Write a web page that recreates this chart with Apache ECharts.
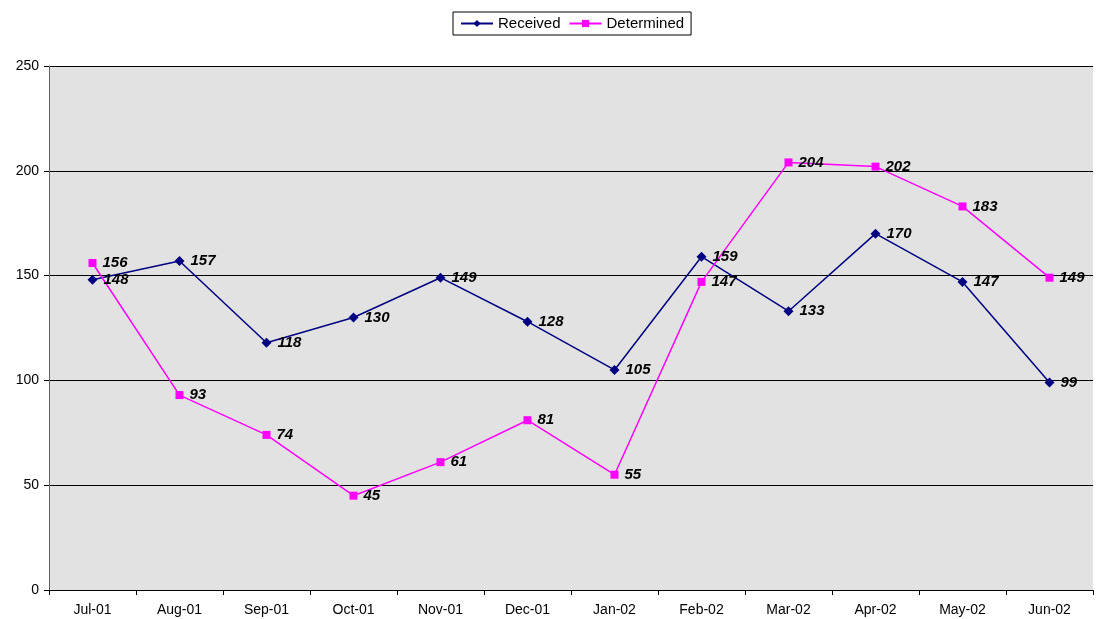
<!DOCTYPE html>
<html>
<head>
<meta charset="utf-8">
<script src="https://cdn.jsdelivr.net/npm/echarts@6/dist/echarts.min.js"></script>
<style>
  html, body { margin: 0; padding: 0; background: #fff; }
  #chart { width: 1100px; height: 619px; }
</style>
</head>
<body>
<div id="chart"></div>
<script>
// 月份
var months = ["Jul-01", "Aug-01", "Sep-01", "Oct-01", "Nov-01", "Dec-01",
              "Jan-02", "Feb-02", "Mar-02", "Apr-02", "May-02", "Jun-02"];
// 数据
var received = [148, 157, 118, 130, 149, 128, 105, 159, 133, 170, 147, 99];
var determined = [156, 93, 74, 45, 61, 81, 55, 147, 204, 202, 183, 149];

var chart = echarts.init(document.getElementById("chart"));
var labelStyle = {
  show: true,
  position: "right",
  distance: 6,
  color: "#000",
  fontFamily: "Liberation Sans, Arial, sans-serif",
  fontSize: 15,
  fontWeight: "bold",
  fontStyle: "italic"
};

var option = {
  animation: false,
  backgroundColor: "#fff",
  textStyle: { fontFamily: "Liberation Sans, Arial, sans-serif" },
  legend: {
    top: 12,
    left: 453,
    itemGap: 8,
    itemWidth: 32,
    itemHeight: 9,
    padding: [4, 7],
    borderColor: "#000",
    borderWidth: 1,
    textStyle: { fontSize: 15, color: "#000" },
    data: ["Received", "Determined"]
  },
  grid: {
    left: 49,
    right: 7,
    top: 66,
    bottom: 29,
    show: true,
    backgroundColor: "#e2e2e2",
    borderWidth: 0
  },
  xAxis: {
    type: "category",
    data: months,
    boundaryGap: true,
    axisLine: { lineStyle: { color: "#000", width: 1 } },
    axisTick: { show: true, length: 5, lineStyle: { color: "#000" } },
    axisLabel: { color: "#000", fontSize: 14, margin: 13 }
  },
  yAxis: {
    type: "value",
    min: 0,
    max: 250,
    interval: 50,
    axisLine: { show: true, lineStyle: { color: "#606060", width: 1 } },
    axisTick: { show: true, length: 5, lineStyle: { color: "#000" } },
    axisLabel: { color: "#000", fontSize: 14, margin: 10 },
    splitLine: { show: true, lineStyle: { color: "#000", width: 1 } }
  },
  series: [
    {
      name: "Received",
      type: "line",
      data: received,
      symbol: "diamond",
      symbolSize: 10,
      color: "#000080",
      lineStyle: { color: "#000080", width: 1.5 },
      itemStyle: { color: "#000080" },
      label: labelStyle
    },
    {
      name: "Determined",
      type: "line",
      data: determined,
      symbol: "rect",
      symbolSize: 8,
      color: "#ff00ff",
      lineStyle: { color: "#ff00ff", width: 1.5 },
      itemStyle: { color: "#ff00ff" },
      label: labelStyle
    }
  ]
};
chart.setOption(option);
</script>
</body>
</html>
